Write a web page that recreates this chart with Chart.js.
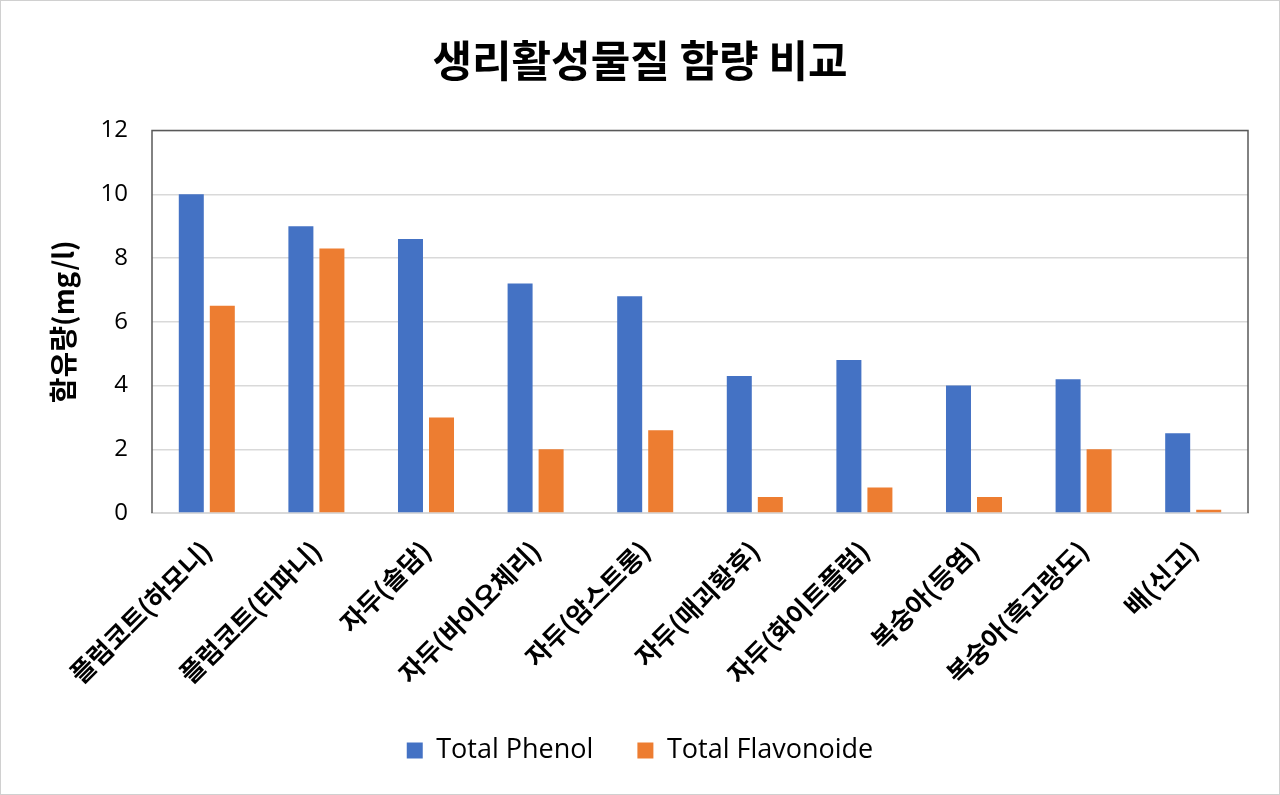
<!DOCTYPE html>
<html><head><meta charset="utf-8">
<script src="https://cdn.jsdelivr.net/npm/chart.js@4.4.1/dist/chart.umd.min.js"></script>
<style>
html,body{margin:0;padding:0;background:#fff;}
#wrap{width:1280px;height:795px;box-sizing:border-box;border:1px solid #d0d0d0;position:relative;}
canvas{display:block;}
</style></head>
<body><div id="wrap"><canvas id="c" width="1278" height="793"></canvas></div>
<script>
const categories = ['플럼코트(하모니)','플럼코트(티파니)','자두(솔담)','자두(바이오체리)','자두(암스트롱)','자두(매괴황후)','자두(화이트플럼)','복숭아(등염)','복숭아(흑고랑도)','배(신고)'];
const totalPhenol = [10, 9, 8.6, 7.2, 6.8, 4.3, 4.8, 4.0, 4.2, 2.5];
const totalFlavonoide = [6.5, 8.3, 3.0, 2.0, 2.6, 0.5, 0.8, 0.5, 2.0, 0.1];
const yTicks = [0, 2, 4, 6, 8, 10, 12];

const KR = '"Noto Sans CJK KR", "Noto Sans", sans-serif';
const LAT = '"Open Sans", "Noto Sans", sans-serif';

const frame = {
  id: 'frame',
  afterDatasetsDraw(chart) {
    const {ctx, chartArea: a} = chart;
    ctx.save();
    ctx.strokeStyle = '#595959';
    ctx.lineWidth = 1.5;
    ctx.beginPath();
    ctx.moveTo(a.left, a.bottom);
    ctx.lineTo(a.left, a.top);
    ctx.lineTo(a.right, a.top);
    ctx.lineTo(a.right, a.bottom);
    ctx.stroke();
    ctx.restore();
  }
};

new Chart(document.getElementById('c'), {
  type: 'bar',
  data: {
    labels: categories,
    datasets: [
      {label: 'Total Phenol', data: totalPhenol, backgroundColor: '#4472C4', borderWidth: 0},
      {label: 'Total Flavonoide', data: totalFlavonoide, backgroundColor: '#ED7D31', borderWidth: 0}
    ]
  },
  options: {
    responsive: false,
    animation: false,
    devicePixelRatio: 1,
    layout: {padding: {left: 31, right: 31, top: 0, bottom: 20}},
    categoryPercentage: 0.566,
    barPercentage: 0.806,
    plugins: {
      title: {
        display: true,
        text: '생리활성물질 함량 비교',
        color: '#000',
        font: {family: KR, size: 43, weight: 'bold'},
        padding: {top: 34, bottom: 44}
      },
      legend: {
        position: 'bottom',
        labels: {
          color: '#000',
          font: {family: LAT, size: 27},
          boxWidth: 16, boxHeight: 16,
          padding: 44
        }
      },
      tooltip: {enabled: false}
    },
    scales: {
      x: {
        grid: {display: false},
        border: {display: true, color: '#d9d9d9', width: 2},
        ticks: {
          color: '#000',
          font: {family: KR, size: 26, weight: 'bold'},
          minRotation: 45, maxRotation: 45,
          padding: 14
        },
        afterFit(s) { s.height = 180; }
      },
      y: {
        min: 0, max: 12,
        afterBuildTicks(s) { s.ticks = yTicks.map(v => ({value: v})); },
        grid: {color: '#d9d9d9', lineWidth: 1.5, drawTicks: false},
        border: {display: false},
        ticks: {
          color: '#000',
          font: {family: LAT, size: 24},
          padding: 24
        },
        title: {
          display: true,
          text: '함유량(mg/l)',
          color: '#000',
          font: {family: KR, size: 28, weight: 'bold'},
          padding: {top: 15, bottom: 0}
        },
        afterFit(s) { s.width = 120; }
      }
    }
  },
  plugins: [frame]
});
</script>
</body></html>
